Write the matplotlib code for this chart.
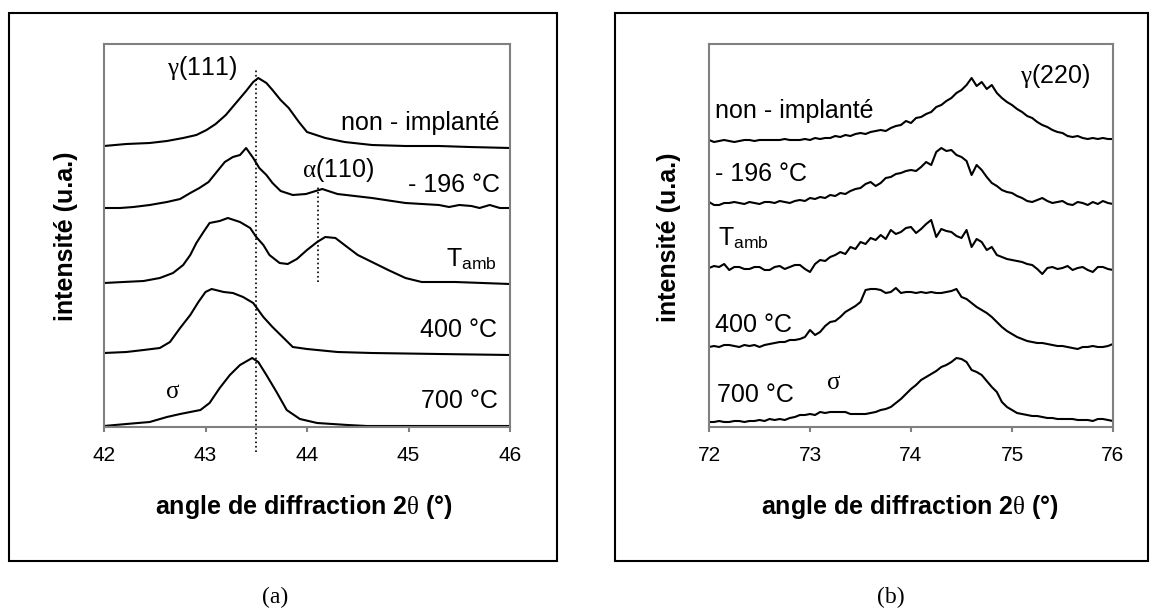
import numpy as np
import matplotlib
matplotlib.use("Agg")
import matplotlib.pyplot as plt
from matplotlib.patches import Rectangle

plt.rcParams['font.family'] = ['Liberation Sans', 'DejaVu Sans']
plt.rcParams['mathtext.fontset'] = 'custom'
plt.rcParams['mathtext.rm'] = 'Liberation Serif'
plt.rcParams['mathtext.sf'] = 'Liberation Sans'
plt.rcParams['mathtext.it'] = 'Liberation Serif:italic'

# ---- panel (a): gamma(111) region, stacked curves (arbitrary units) ----
a_x1 = [42.0, 42.22, 42.45, 42.62, 42.78, 42.91, 43.01, 43.1, 43.2, 43.3, 43.4, 43.47, 43.52,
        43.6, 43.66, 43.74, 43.82, 43.92, 44.0, 44.18, 44.37, 44.64, 44.97, 45.3, 45.6, 46.0]
a_y1 = [281, 283, 284, 286, 289, 292, 297, 303, 312, 324, 336, 345, 349,
        344, 337, 327, 319, 305, 295, 289, 285, 282, 281, 281, 280, 279]
a_x2 = [42.0, 42.16, 42.29, 42.45, 42.62, 42.75, 42.85, 42.94, 43.03, 43.11, 43.19, 43.27, 43.34,
        43.4, 43.47, 43.53, 43.6, 43.66, 43.74, 43.86, 43.99, 44.15, 44.3, 44.64, 44.97, 45.3,
        45.4, 45.5, 45.62, 45.7, 45.8, 45.9, 46.0]
a_y2 = [219, 219, 220, 222, 225, 228, 234, 239, 245, 255, 265, 270, 272,
        279, 269, 259, 252, 244, 236, 232, 233, 238, 233, 229, 224, 222,
        220, 222, 221, 219, 222, 219, 219]
a_x3 = [42.0, 42.19, 42.39, 42.55, 42.68, 42.78, 42.85, 42.91, 42.98, 43.04, 43.14, 43.22, 43.34,
        43.44, 43.5, 43.57, 43.63, 43.73, 43.81, 43.9, 44.0, 44.1, 44.18, 44.28, 44.37, 44.5,
        44.64, 44.8, 44.97, 45.13, 45.46, 46.0]
a_y3 = [144, 145, 146, 149, 154, 162, 172, 184, 195, 204, 206, 209, 205,
        199, 190, 182, 172, 164, 163, 168, 177, 185, 190, 189, 182, 172,
        165, 157, 149, 145, 145, 143]
a_x4 = [42.0, 42.22, 42.39, 42.55, 42.65, 42.75, 42.85, 42.93, 43.0, 43.06, 43.18, 43.27, 43.37,
        43.47, 43.57, 43.66, 43.76, 43.86, 44.0, 44.3, 44.64, 45.3, 46.0]
a_y4 = [74, 75, 77, 79, 85, 99, 112, 125, 135, 138, 135, 134, 130,
        124, 110, 100, 90, 80, 78, 75, 74, 73, 72]
a_x5 = [42.0, 42.22, 42.45, 42.62, 42.75, 42.95, 43.04, 43.14, 43.24, 43.34, 43.46, 43.52,
        43.6, 43.7, 43.8, 43.93, 44.1, 44.4, 44.59, 46.0]
a_y5 = [1, 3, 5, 10, 13, 17, 24, 39, 52, 62, 69, 65,
        52, 35, 17, 8, 4, 2, 1, 1]

# ---- panel (b): gamma(220) region, 72..76 every 0.05 deg ----
b_x = np.round(np.linspace(72.0, 76.0, 81), 2)
b_y1 = [287, 285, 286, 287, 286, 285, 286, 287, 287, 286, 287, 287, 287, 287, 287, 288, 287, 287, 287, 288,
        287, 289, 288, 289, 289, 291, 290, 292, 291, 293, 294, 293, 295, 296, 297, 296, 299, 301, 302, 306,
        304, 309, 310, 313, 315, 320, 322, 326, 329, 334, 337, 342, 349, 341, 345, 338, 342, 334, 329, 325,
        322, 318, 315, 311, 309, 305, 302, 300, 297, 295, 294, 291, 290, 291, 289, 288, 289, 288, 289, 288, 288]
b_y2 = [225, 222, 222, 224, 224, 225, 224, 223, 225, 224, 223, 225, 225, 224, 226, 225, 224, 226, 227, 226,
        229, 228, 230, 229, 232, 231, 234, 233, 236, 238, 239, 243, 245, 241, 244, 249, 250, 253, 254, 256,
        257, 256, 260, 265, 262, 275, 279, 276, 277, 272, 270, 266, 252, 262, 257, 250, 244, 241, 237, 235,
        234, 231, 229, 226, 225, 227, 229, 226, 224, 225, 226, 223, 222, 225, 224, 222, 225, 223, 226, 224, 223]
b_y3 = [159, 161, 160, 163, 157, 160, 160, 158, 158, 160, 160, 157, 157, 160, 161, 158, 160, 162, 162, 158,
        155, 163, 167, 166, 170, 172, 175, 173, 180, 178, 185, 183, 189, 187, 192, 188, 197, 193, 195, 199,
        200, 194, 198, 203, 207, 190, 198, 196, 195, 191, 189, 197, 180, 188, 185, 177, 180, 172, 170, 168,
        167, 166, 165, 163, 162, 158, 153, 159, 160, 158, 159, 161, 157, 159, 160, 157, 155, 160, 160, 158, 157]
b_y4 = [80, 81, 80, 82, 82, 81, 80, 82, 81, 82, 80, 82, 83, 84, 85, 85, 87, 87, 88, 90,
        97, 92, 95, 101, 105, 106, 110, 115, 118, 121, 125, 137, 138, 138, 137, 134, 135, 139, 134, 135,
        135, 134, 135, 134, 135, 134, 134, 135, 136, 138, 130, 128, 124, 120, 117, 114, 110, 105, 100, 96,
        93, 90, 88, 86, 85, 84, 84, 83, 82, 81, 81, 80, 79, 78, 80, 80, 81, 80, 80, 81, 83]
b_y5 = [5, 5, 6, 5, 5, 6, 6, 5, 6, 6, 7, 6, 8, 7, 8, 7, 9, 10, 12, 12,
        13, 12, 15, 14, 15, 15, 15, 15, 13, 13, 13, 13, 14, 15, 17, 18, 20, 24, 28, 33,
        38, 42, 47, 50, 53, 56, 60, 62, 65, 69, 68, 65, 57, 55, 52, 46, 40, 35, 25, 20,
        17, 14, 13, 12, 11, 11, 10, 9, 9, 8, 8, 8, 8, 7, 7, 7, 6, 8, 8, 7, 6]

gamma111 = 43.5
alpha110 = 44.11

fig = plt.figure(figsize=(11.5, 6.15), dpi=100)
axa = fig.add_axes([104 / 1150, 1 - 427 / 615, 406 / 1150, 383 / 615])
axb = fig.add_axes([709 / 1150, 1 - 427 / 615, 404 / 1150, 383 / 615])

lw = 1.5
for x, y in [(a_x1, a_y1), (a_x2, a_y2), (a_x3, a_y3), (a_x4, a_y4), (a_x5, a_y5)]:
    axa.plot(x, y, color='black', lw=lw)
for y in [b_y1, b_y2, b_y3, b_y4, b_y5]:
    axb.plot(b_x, y, color='black', lw=lw)

# peak position markers
axa.plot([gamma111, gamma111], [-25, 357], color='black', ls=':', lw=1.2, clip_on=False)
axa.plot([alpha110, alpha110], [145, 240], color='black', ls=':', lw=1.2)

for ax, lo, hi in [(axa, 42, 46), (axb, 72, 76)]:
    ax.set_xlim(lo, hi)
    ax.set_ylim(0, 383)
    ax.set_xticks(range(lo, hi + 1))
    ax.set_yticks([])
    for s in ax.spines.values():
        s.set_color('#808080')
        s.set_linewidth(1.5)
    ax.tick_params(axis='x', direction='out', length=3.6, width=1.5, color='#808080',
                   labelsize=15, pad=10)

fs = 18
# panel (a) labels
axa.text(42.62, 352, r'$\mathrm{\gamma}$(111)', fontsize=fs, ha='left', va='baseline')
axa.text(45.9, 297, 'non - implanté', fontsize=fs, ha='right', va='baseline')
axa.text(43.95, 250, r'$\mathrm{\alpha}$(110)', fontsize=fs, ha='left', va='baseline')
axa.text(45.9, 235, '- 196 °C', fontsize=fs, ha='right', va='baseline')
axa.text(45.87, 161, r'T$_{\mathsf{amb}}$', fontsize=fs, ha='right', va='baseline')
axa.text(45.87, 90, '400 °C', fontsize=fs, ha='right', va='baseline')
axa.text(45.88, 19, '700 °C', fontsize=fs, ha='right', va='baseline')
axa.text(42.68, 29, r'$\mathrm{\sigma}$', fontsize=fs, ha='center', va='baseline')

# panel (b) labels
axb.text(75.08, 344, r'$\mathrm{\gamma}$(220)', fontsize=fs, ha='left', va='baseline')
axb.text(72.06, 309, 'non - implanté', fontsize=fs, ha='left', va='baseline')
axb.text(72.06, 246, '- 196 °C', fontsize=fs, ha='left', va='baseline')
axb.text(72.09, 182, r'T$_{\mathsf{amb}}$', fontsize=fs, ha='left', va='baseline')
axb.text(72.06, 95, '400 °C', fontsize=fs, ha='left', va='baseline')
axb.text(72.08, 25, '700 °C', fontsize=fs, ha='left', va='baseline')
axb.text(73.23, 38, r'$\mathrm{\sigma}$', fontsize=fs, ha='center', va='baseline')

# axis titles
xlab = r'angle de diffraction 2$\mathrm{\theta}$ (°)'
fig.text(304 / 1150, 1 - 507 / 615, xlab, fontsize=18, fontweight='bold', ha='center', va='center')
fig.text(910 / 1150, 1 - 507 / 615, xlab, fontsize=18, fontweight='bold', ha='center', va='center')
fig.text(66 / 1150, 1 - 236 / 615, 'intensité (u.a.)', fontsize=18, fontweight='bold',
         rotation=90, ha='center', va='center')
fig.text(669 / 1150, 1 - 237 / 615, 'intensité (u.a.)', fontsize=18, fontweight='bold',
         rotation=90, ha='center', va='center')

# outer frames and panel letters
fig.patches.append(Rectangle((9 / 1150, 1 - 561 / 615), 548 / 1150, 548 / 615, fill=False,
                             edgecolor='black', lw=1.5, transform=fig.transFigure))
fig.patches.append(Rectangle((615 / 1150, 1 - 561 / 615), 533 / 1150, 548 / 615, fill=False,
                             edgecolor='black', lw=1.5, transform=fig.transFigure))
fig.text(275 / 1150, 1 - 597 / 615, '(a)', fontsize=17, family='Liberation Serif', ha='center', va='center')
fig.text(891 / 1150, 1 - 597 / 615, '(b)', fontsize=17, family='Liberation Serif', ha='center', va='center')

fig.savefig('out.png', dpi=100)
